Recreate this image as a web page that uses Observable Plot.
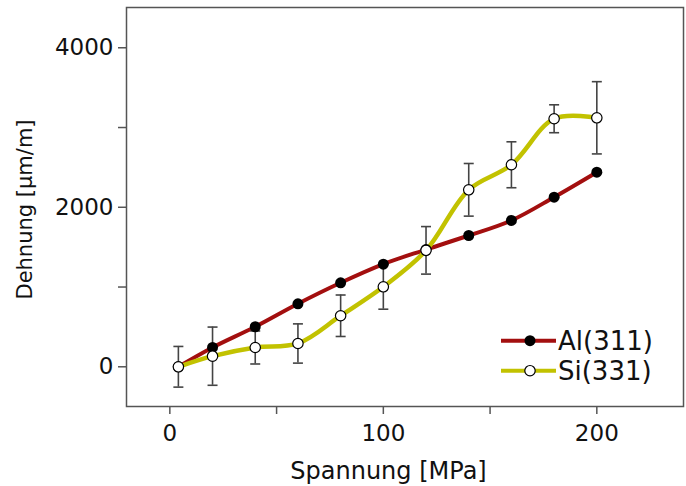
<!DOCTYPE html>
<html><head><meta charset="utf-8">
<script src="https://cdn.jsdelivr.net/npm/d3@7"></script>
<script src="https://cdn.jsdelivr.net/npm/@observablehq/plot@0.6"></script>
<style>
body{margin:0;background:#fff;}
#wrap{position:relative;width:686px;height:486px;font-family:"DejaVu Sans",sans-serif;}
#wrap svg.legend{position:absolute;left:0;top:0;pointer-events:none;}
</style></head><body><div id="wrap"></div>
<script>
const stress = [4, 20, 40, 60, 80, 100, 120, 140, 160, 180, 200];
const strainAl = [0, 242, 502, 790, 1053, 1287, 1470, 1646, 1835, 2127, 2440];
const strainSi = [0, 133, 242, 292, 640, 1003, 1460, 2219, 2533, 3110, 3122];
const errSi = [255, 365, 207, 246, 260, 281, 298, 330, 288, 175, 453];
const xTicks = [0, 50, 100, 150, 200];
const xTickLabels = ["0", "", "100", "", "200"];
const yTicks = [0, 1000, 2000, 3000, 4000];
const yTickLabels = ["0", "", "2000", "", "4000"];
const seriesNames = ["Al(311)", "Si(331)"];
const seriesColors = ["#a30f0f", "#c2c200"];
const xLabel = "Spannung [MPa]";
const yLabel = "Dehnung [µm/m]";

const al = stress.map((x, i) => ({x, y: strainAl[i]}));
const si = stress.map((x, i) => ({x, y: strainSi[i], lo: strainSi[i] - errSi[i], hi: strainSi[i] + errSi[i]}));

const cap = {draw(ctx) { ctx.moveTo(-5, 0); ctx.lineTo(5, 0); }};

const chart = Plot.plot({
  width: 686, height: 486,
  marginLeft: 126, marginRight: 3, marginTop: 7, marginBottom: 80,
  style: {fontFamily: "DejaVu Sans", fontSize: "23px", background: "transparent", color: "#111"},
  x: {domain: [-20.3, 240.6]},
  y: {domain: [-498, 4505]},
  marks: [
    Plot.axisX({ticks: xTicks, tickFormat: d => xTickLabels[xTicks.indexOf(d)], tickSize: 8, tickPadding: 10, label: null, stroke: "#555", strokeWidth: 1.5, fontSize: 23}),
    Plot.axisY({ticks: yTicks, tickFormat: d => yTickLabels[yTicks.indexOf(d)], tickSize: 8, tickPadding: 5, label: null, stroke: "#555", strokeWidth: 1.5, fontSize: 23}),
    Plot.text([xLabel], {frameAnchor: "bottom", dx: -16.5, dy: 55, lineAnchor: "top", textAnchor: "middle", fontSize: 24, fill: "#111"}),
    Plot.text([yLabel], {frameAnchor: "left", rotate: -90, dx: -101, dy: 2.5, lineAnchor: "middle", textAnchor: "middle", fontSize: 21, fill: "#111"}),
    Plot.line(al, {x: "x", y: "y", stroke: seriesColors[0], strokeWidth: 4, curve: "catmull-rom"}),
    Plot.line(si, {x: "x", y: "y", stroke: seriesColors[1], strokeWidth: 4.5, curve: "catmull-rom"}),
    Plot.ruleX(si, {x: "x", y1: "lo", y2: "hi", stroke: "#444", strokeWidth: 1.6}),
    Plot.dot(si, {x: "x", y: "hi", symbol: cap, stroke: "#444", strokeWidth: 1.6, fill: "none", r: 5}),
    Plot.dot(si, {x: "x", y: "lo", symbol: cap, stroke: "#444", strokeWidth: 1.6, fill: "none", r: 5}),
    Plot.dot(al, {x: "x", y: "y", r: 5.5, fill: "#000", stroke: "none"}),
    Plot.dot(si, {x: "x", y: "y", r: 5.2, fill: "#fff", stroke: "#000", strokeWidth: 1.2}),
    Plot.frame({stroke: "#555", strokeWidth: 1.5})
  ]
});
const wrap = document.getElementById("wrap");
wrap.appendChild(chart);

// legend overlay
const lg = d3.select(wrap).append("svg").attr("class", "legend").attr("width", 686).attr("height", 486);
const legendRows = [340.7, 370.7];
seriesNames.forEach((name, i) => {
  const g = lg.append("g").attr("transform", `translate(0,${legendRows[i]})`);
  g.append("line").attr("x1", 501).attr("x2", 556).attr("stroke", seriesColors[i]).attr("stroke-width", 4);
  g.append("circle").attr("cx", 530).attr("r", i === 0 ? 5.5 : 5.2)
    .attr("fill", i === 0 ? "#000" : "#fff").attr("stroke", i === 0 ? "none" : "#000").attr("stroke-width", 1.2);
  g.append("text").attr("x", 558).attr("y", 9.5).attr("font-family", "DejaVu Sans").attr("font-size", 26).attr("fill", "#111").text(name);
});
</script></body></html>
